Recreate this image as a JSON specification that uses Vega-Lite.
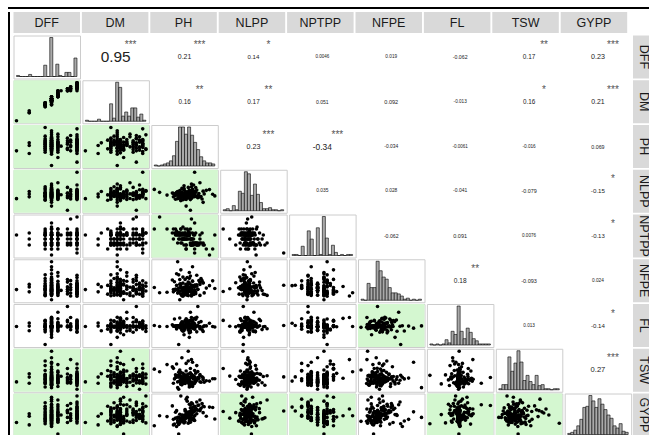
{
"$schema":"https://vega.github.io/schema/vega-lite/v6.json",
"background":"white",
"padding":{"left":8,"top":7,"right":0,"bottom":0},
"config":{"font":"Liberation Sans","view":{"continuousWidth":66.5,"continuousHeight":43,"discreteWidth":66.5,"discreteHeight":43,"stroke":"#cccccc","strokeWidth":1},"axis":{"disable":true},"legend":{"disable":true},"locale":{"number":{"decimal":".","thousands":",","grouping":[3],"currency":["$",""],"minus":"-"}}},
"datasets":{
"vars":[{"v":"DFF"},{"v":"DM"},{"v":"PH"},{"v":"NLPP"},{"v":"NPTPP"},{"v":"NFPE"},{"v":"FL"},{"v":"TSW"},{"v":"GYPP"}],
"cor":[
{"a":"DFF","b":"DM","r":0.95,"stars":"***"},{"a":"DFF","b":"PH","r":0.21,"stars":"***"},{"a":"DFF","b":"NLPP","r":0.14,"stars":"*"},{"a":"DFF","b":"NPTPP","r":0.0046,"stars":""},{"a":"DFF","b":"NFPE","r":0.019,"stars":""},{"a":"DFF","b":"FL","r":-0.062,"stars":""},{"a":"DFF","b":"TSW","r":0.17,"stars":"**"},{"a":"DFF","b":"GYPP","r":0.23,"stars":"***"},
{"a":"DM","b":"PH","r":0.16,"stars":"**"},{"a":"DM","b":"NLPP","r":0.17,"stars":"**"},{"a":"DM","b":"NPTPP","r":0.051,"stars":""},{"a":"DM","b":"NFPE","r":0.092,"stars":""},{"a":"DM","b":"FL","r":-0.013,"stars":""},{"a":"DM","b":"TSW","r":0.16,"stars":"*"},{"a":"DM","b":"GYPP","r":0.21,"stars":"***"},
{"a":"PH","b":"NLPP","r":0.23,"stars":"***"},{"a":"PH","b":"NPTPP","r":-0.34,"stars":"***"},{"a":"PH","b":"NFPE","r":-0.034,"stars":""},{"a":"PH","b":"FL","r":-0.0061,"stars":""},{"a":"PH","b":"TSW","r":-0.016,"stars":""},{"a":"PH","b":"GYPP","r":0.069,"stars":""},
{"a":"NLPP","b":"NPTPP","r":0.035,"stars":""},{"a":"NLPP","b":"NFPE","r":0.028,"stars":""},{"a":"NLPP","b":"FL","r":-0.041,"stars":""},{"a":"NLPP","b":"TSW","r":-0.079,"stars":""},{"a":"NLPP","b":"GYPP","r":-0.15,"stars":"*"},
{"a":"NPTPP","b":"NFPE","r":-0.062,"stars":""},{"a":"NPTPP","b":"FL","r":0.091,"stars":""},{"a":"NPTPP","b":"TSW","r":0.0076,"stars":""},{"a":"NPTPP","b":"GYPP","r":-0.13,"stars":"*"},
{"a":"NFPE","b":"FL","r":0.18,"stars":"**"},{"a":"NFPE","b":"TSW","r":-0.093,"stars":""},{"a":"NFPE","b":"GYPP","r":0.024,"stars":""},
{"a":"FL","b":"TSW","r":0.013,"stars":""},{"a":"FL","b":"GYPP","r":-0.14,"stars":"*"},
{"a":"TSW","b":"GYPP","r":0.27,"stars":"***"}],
"hist":[
{"v":"DFF","b":0,"n":1},{"v":"DFF","b":1,"n":0},{"v":"DFF","b":2,"n":0},{"v":"DFF","b":3,"n":0},{"v":"DFF","b":4,"n":2},{"v":"DFF","b":5,"n":0},{"v":"DFF","b":6,"n":0},{"v":"DFF","b":7,"n":0},{"v":"DFF","b":8,"n":0},{"v":"DFF","b":9,"n":11},{"v":"DFF","b":10,"n":0},{"v":"DFF","b":11,"n":38},{"v":"DFF","b":12,"n":0},{"v":"DFF","b":13,"n":12},{"v":"DFF","b":14,"n":1},{"v":"DFF","b":15,"n":0},{"v":"DFF","b":16,"n":4},{"v":"DFF","b":17,"n":4},{"v":"DFF","b":18,"n":0},{"v":"DFF","b":19,"n":18},
{"v":"DM","b":0,"n":1},{"v":"DM","b":1,"n":0},{"v":"DM","b":2,"n":0},{"v":"DM","b":3,"n":0},{"v":"DM","b":4,"n":2},{"v":"DM","b":5,"n":0},{"v":"DM","b":6,"n":0},{"v":"DM","b":7,"n":0},{"v":"DM","b":8,"n":17},{"v":"DM","b":9,"n":3},{"v":"DM","b":10,"n":38},{"v":"DM","b":11,"n":33},{"v":"DM","b":12,"n":5},{"v":"DM","b":13,"n":9},{"v":"DM","b":14,"n":5},{"v":"DM","b":15,"n":13},{"v":"DM","b":16,"n":13},{"v":"DM","b":17,"n":4},{"v":"DM","b":18,"n":7},{"v":"DM","b":19,"n":1},
{"v":"PH","b":0,"n":1},{"v":"PH","b":1,"n":0},{"v":"PH","b":2,"n":1},{"v":"PH","b":3,"n":2},{"v":"PH","b":4,"n":3},{"v":"PH","b":5,"n":5},{"v":"PH","b":6,"n":10},{"v":"PH","b":7,"n":24},{"v":"PH","b":8,"n":38},{"v":"PH","b":9,"n":38},{"v":"PH","b":10,"n":31},{"v":"PH","b":11,"n":38},{"v":"PH","b":12,"n":30},{"v":"PH","b":13,"n":23},{"v":"PH","b":14,"n":16},{"v":"PH","b":15,"n":9},{"v":"PH","b":16,"n":5},{"v":"PH","b":17,"n":3},{"v":"PH","b":18,"n":3},{"v":"PH","b":19,"n":2},
{"v":"NLPP","b":0,"n":1},{"v":"NLPP","b":1,"n":2},{"v":"NLPP","b":2,"n":0},{"v":"NLPP","b":3,"n":5},{"v":"NLPP","b":4,"n":1},{"v":"NLPP","b":5,"n":19},{"v":"NLPP","b":6,"n":17},{"v":"NLPP","b":7,"n":38},{"v":"NLPP","b":8,"n":36},{"v":"NLPP","b":9,"n":15},{"v":"NLPP","b":10,"n":26},{"v":"NLPP","b":11,"n":16},{"v":"NLPP","b":12,"n":8},{"v":"NLPP","b":13,"n":2},{"v":"NLPP","b":14,"n":2},{"v":"NLPP","b":15,"n":3},{"v":"NLPP","b":16,"n":1},{"v":"NLPP","b":17,"n":1},{"v":"NLPP","b":18,"n":0},{"v":"NLPP","b":19,"n":1},
{"v":"NPTPP","b":0,"n":1},{"v":"NPTPP","b":1,"n":1},{"v":"NPTPP","b":2,"n":0},{"v":"NPTPP","b":3,"n":9},{"v":"NPTPP","b":4,"n":0},{"v":"NPTPP","b":5,"n":24},{"v":"NPTPP","b":6,"n":16},{"v":"NPTPP","b":7,"n":0},{"v":"NPTPP","b":8,"n":27},{"v":"NPTPP","b":9,"n":1},{"v":"NPTPP","b":10,"n":38},{"v":"NPTPP","b":11,"n":17},{"v":"NPTPP","b":12,"n":1},{"v":"NPTPP","b":13,"n":10},{"v":"NPTPP","b":14,"n":3},{"v":"NPTPP","b":15,"n":0},{"v":"NPTPP","b":16,"n":1},{"v":"NPTPP","b":17,"n":0},{"v":"NPTPP","b":18,"n":1},{"v":"NPTPP","b":19,"n":1},
{"v":"NFPE","b":0,"n":1},{"v":"NFPE","b":1,"n":0},{"v":"NFPE","b":2,"n":16},{"v":"NFPE","b":3,"n":12},{"v":"NFPE","b":4,"n":12},{"v":"NFPE","b":5,"n":37},{"v":"NFPE","b":6,"n":28},{"v":"NFPE","b":7,"n":22},{"v":"NFPE","b":8,"n":20},{"v":"NFPE","b":9,"n":12},{"v":"NFPE","b":10,"n":7},{"v":"NFPE","b":11,"n":7},{"v":"NFPE","b":12,"n":6},{"v":"NFPE","b":13,"n":4},{"v":"NFPE","b":14,"n":1},{"v":"NFPE","b":15,"n":2},{"v":"NFPE","b":16,"n":0},{"v":"NFPE","b":17,"n":1},{"v":"NFPE","b":18,"n":0},{"v":"NFPE","b":19,"n":1},
{"v":"FL","b":0,"n":1},{"v":"FL","b":1,"n":0},{"v":"FL","b":2,"n":1},{"v":"FL","b":3,"n":0},{"v":"FL","b":4,"n":1},{"v":"FL","b":5,"n":5},{"v":"FL","b":6,"n":2},{"v":"FL","b":7,"n":13},{"v":"FL","b":8,"n":10},{"v":"FL","b":9,"n":37},{"v":"FL","b":10,"n":13},{"v":"FL","b":11,"n":6},{"v":"FL","b":12,"n":16},{"v":"FL","b":13,"n":12},{"v":"FL","b":14,"n":6},{"v":"FL","b":15,"n":4},{"v":"FL","b":16,"n":1},{"v":"FL","b":17,"n":1},{"v":"FL","b":18,"n":1},{"v":"FL","b":19,"n":1},
{"v":"TSW","b":0,"n":1},{"v":"TSW","b":1,"n":5},{"v":"TSW","b":2,"n":5},{"v":"TSW","b":3,"n":32},{"v":"TSW","b":4,"n":18},{"v":"TSW","b":5,"n":26},{"v":"TSW","b":6,"n":38},{"v":"TSW","b":7,"n":27},{"v":"TSW","b":8,"n":9},{"v":"TSW","b":9,"n":14},{"v":"TSW","b":10,"n":8},{"v":"TSW","b":11,"n":5},{"v":"TSW","b":12,"n":14},{"v":"TSW","b":13,"n":4},{"v":"TSW","b":14,"n":5},{"v":"TSW","b":15,"n":1},{"v":"TSW","b":16,"n":1},{"v":"TSW","b":17,"n":0},{"v":"TSW","b":18,"n":1},{"v":"TSW","b":19,"n":1},
{"v":"GYPP","b":0,"n":1},{"v":"GYPP","b":1,"n":2},{"v":"GYPP","b":2,"n":4},{"v":"GYPP","b":3,"n":8},{"v":"GYPP","b":4,"n":14},{"v":"GYPP","b":5,"n":25},{"v":"GYPP","b":6,"n":26},{"v":"GYPP","b":7,"n":36},{"v":"GYPP","b":8,"n":31},{"v":"GYPP","b":9,"n":25},{"v":"GYPP","b":10,"n":33},{"v":"GYPP","b":11,"n":28},{"v":"GYPP","b":12,"n":23},{"v":"GYPP","b":13,"n":18},{"v":"GYPP","b":14,"n":15},{"v":"GYPP","b":15,"n":8},{"v":"GYPP","b":16,"n":6},{"v":"GYPP","b":17,"n":10},{"v":"GYPP","b":18,"n":3},{"v":"GYPP","b":19,"n":2}],
"obs":[
{"DFF":40,"DM":84,"PH":83,"NLPP":11.2,"NPTPP":4.5,"NFPE":15.3,"FL":24.4,"TSW":34.1,"GYPP":5.2},
{"DFF":44,"DM":88,"PH":91,"NLPP":13.5,"NPTPP":3.25,"NFPE":17.8,"FL":26.1,"TSW":36.5,"GYPP":6.8},
{"DFF":44,"DM":88,"PH":79,"NLPP":12.1,"NPTPP":4.0,"NFPE":14.2,"FL":24.6,"TSW":33.4,"GYPP":4.6},
{"DFF":44,"DM":89,"PH":95,"NLPP":14.8,"NPTPP":4.75,"NFPE":16.6,"FL":22.3,"TSW":38.2,"GYPP":7.4},
{"DFF":49,"DM":92,"PH":118,"NLPP":12.6,"NPTPP":4.5,"NFPE":15.8,"FL":24.2,"TSW":35.7,"GYPP":6.1},
{"DFF":49,"DM":92,"PH":97,"NLPP":13.9,"NPTPP":3.5,"NFPE":19.4,"FL":27.5,"TSW":33.2,"GYPP":7.9},
{"DFF":49,"DM":91,"PH":86,"NLPP":10.4,"NPTPP":5.25,"NFPE":13.1,"FL":24.7,"TSW":36.9,"GYPP":5.6},
{"DFF":49,"DM":92,"PH":101,"NLPP":15.6,"NPTPP":3.25,"NFPE":16.9,"FL":21.8,"TSW":42.3,"GYPP":8.4},
{"DFF":49,"DM":93,"PH":92,"NLPP":12.9,"NPTPP":4.0,"NFPE":12.6,"FL":24.5,"TSW":34.6,"GYPP":6.6},
{"DFF":49,"DM":92,"PH":84,"NLPP":11.7,"NPTPP":4.75,"NFPE":22.4,"FL":15.6,"TSW":37.4,"GYPP":4.9},
{"DFF":49,"DM":92,"PH":94,"NLPP":14.2,"NPTPP":4.5,"NFPE":15.1,"FL":25.9,"TSW":31.5,"GYPP":7.2},
{"DFF":49,"DM":91,"PH":99,"NLPP":13.1,"NPTPP":2.75,"NFPE":17.3,"FL":23.1,"TSW":39.8,"GYPP":9.3},
{"DFF":49,"DM":92,"PH":89,"NLPP":16.3,"NPTPP":4.0,"NFPE":14.7,"FL":24.3,"TSW":35.2,"GYPP":5.9},
{"DFF":49,"DM":93,"PH":105,"NLPP":12.3,"NPTPP":3.5,"NFPE":20.6,"FL":26.8,"TSW":33.9,"GYPP":8.8},
{"DFF":49,"DM":92,"PH":81,"NLPP":10.9,"NPTPP":4.5,"NFPE":15.5,"FL":24.8,"TSW":36.3,"GYPP":6.3},
{"DFF":49,"DM":92,"PH":93,"NLPP":13.7,"NPTPP":5.0,"NFPE":18.2,"FL":22.7,"TSW":44.6,"GYPP":7.6},
{"DFF":49,"DM":92,"PH":90,"NLPP":12.4,"NPTPP":4.75,"NFPE":13.8,"FL":24.1,"TSW":33.6,"GYPP":5.4},
{"DFF":49,"DM":93,"PH":96,"NLPP":17.2,"NPTPP":3.25,"NFPE":16.1,"FL":27.2,"TSW":37.9,"GYPP":10.2},
{"DFF":49,"DM":92,"PH":87,"NLPP":14.5,"NPTPP":4.5,"NFPE":12.3,"FL":25.4,"TSW":35.5,"GYPP":6.9},
{"DFF":51,"DM":94,"PH":92,"NLPP":13.3,"NPTPP":4.5,"NFPE":15.6,"FL":24.4,"TSW":36.2,"GYPP":6.7},
{"DFF":51,"DM":95,"PH":85,"NLPP":12.2,"NPTPP":4.0,"NFPE":17.9,"FL":28.6,"TSW":34.4,"GYPP":7.3},
{"DFF":51,"DM":94,"PH":98,"NLPP":14.6,"NPTPP":3.5,"NFPE":14.4,"FL":24.6,"TSW":37.1,"GYPP":5.8},
{"DFF":51,"DM":95,"PH":90,"NLPP":11.4,"NPTPP":4.75,"NFPE":13.2,"FL":23.4,"TSW":33.3,"GYPP":8.1},
{"DFF":51,"DM":94,"PH":61,"NLPP":15.9,"NPTPP":5.25,"NFPE":16.3,"FL":24.9,"TSW":40.5,"GYPP":4.4},
{"DFF":51,"DM":96,"PH":103,"NLPP":13.8,"NPTPP":3.25,"NFPE":19.7,"FL":26.4,"TSW":35.8,"GYPP":9.6},
{"DFF":51,"DM":95,"PH":94,"NLPP":12.7,"NPTPP":4.5,"NFPE":15.2,"FL":24.2,"TSW":32.7,"GYPP":6.2},
{"DFF":51,"DM":94,"PH":88,"NLPP":10.6,"NPTPP":4.5,"NFPE":21.3,"FL":22.1,"TSW":36.6,"GYPP":7.0},
{"DFF":51,"DM":93,"PH":95,"NLPP":14.1,"NPTPP":4.0,"NFPE":14.9,"FL":24.5,"TSW":38.7,"GYPP":5.3},
{"DFF":51,"DM":95,"PH":100,"NLPP":16.8,"NPTPP":3.5,"NFPE":17.4,"FL":27.9,"TSW":34.9,"GYPP":8.7},
{"DFF":51,"DM":94,"PH":83,"NLPP":13.0,"NPTPP":4.75,"NFPE":28.7,"FL":24.7,"TSW":31.2,"GYPP":6.5},
{"DFF":51,"DM":95,"PH":91,"NLPP":12.5,"NPTPP":2.75,"NFPE":15.9,"FL":25.6,"TSW":43.4,"GYPP":11.1},
{"DFF":51,"DM":94,"PH":107,"NLPP":9.3,"NPTPP":3.25,"NFPE":18.6,"FL":24.3,"TSW":35.3,"GYPP":7.7},
{"DFF":51,"DM":96,"PH":89,"NLPP":13.6,"NPTPP":4.5,"NFPE":13.6,"FL":20.4,"TSW":37.6,"GYPP":5.1},
{"DFF":51,"DM":94,"PH":97,"NLPP":15.2,"NPTPP":4.0,"NFPE":16.7,"FL":26.6,"TSW":33.8,"GYPP":9.0},
{"DFF":51,"DM":95,"PH":86,"NLPP":11.9,"NPTPP":5.25,"NFPE":24.8,"FL":24.6,"TSW":36.0,"GYPP":6.0},
{"DFF":51,"DM":94,"PH":93,"NLPP":14.3,"NPTPP":4.5,"NFPE":14.1,"FL":23.7,"TSW":34.0,"GYPP":7.5},
{"DFF":51,"DM":92,"PH":102,"NLPP":12.8,"NPTPP":3.5,"NFPE":15.4,"FL":24.9,"TSW":39.3,"GYPP":8.3},
{"DFF":51,"DM":95,"PH":80,"NLPP":13.4,"NPTPP":4.75,"NFPE":19.1,"FL":28.1,"TSW":35.6,"GYPP":4.8},
{"DFF":51,"DM":94,"PH":96,"NLPP":18.6,"NPTPP":3.25,"NFPE":12.9,"FL":24.4,"TSW":32.4,"GYPP":6.4},
{"DFF":51,"DM":95,"PH":92,"NLPP":12.0,"NPTPP":4.5,"NFPE":17.1,"FL":25.1,"TSW":37.3,"GYPP":10.6},
{"DFF":51,"DM":94,"PH":87,"NLPP":13.2,"NPTPP":4.0,"NFPE":15.0,"FL":22.6,"TSW":46.2,"GYPP":7.1},
{"DFF":51,"DM":93,"PH":99,"NLPP":14.9,"NPTPP":3.5,"NFPE":13.4,"FL":24.2,"TSW":33.5,"GYPP":5.7},
{"DFF":51,"DM":95,"PH":90,"NLPP":11.1,"NPTPP":5.25,"NFPE":20.2,"FL":27.3,"TSW":36.8,"GYPP":8.5},
{"DFF":51,"DM":94,"PH":110,"NLPP":15.4,"NPTPP":2.75,"NFPE":16.0,"FL":24.7,"TSW":34.7,"GYPP":6.8},
{"DFF":51,"DM":96,"PH":85,"NLPP":12.9,"NPTPP":4.5,"NFPE":10.4,"FL":24.0,"TSW":40.1,"GYPP":5.5},
{"DFF":51,"DM":95,"PH":94,"NLPP":13.7,"NPTPP":4.75,"NFPE":18.3,"FL":21.3,"TSW":35.1,"GYPP":9.8},
{"DFF":51,"DM":94,"PH":91,"NLPP":7.4,"NPTPP":4.0,"NFPE":15.7,"FL":24.5,"TSW":37.0,"GYPP":6.3},
{"DFF":51,"DM":95,"PH":98,"NLPP":12.6,"NPTPP":3.25,"NFPE":13.0,"FL":26.2,"TSW":33.0,"GYPP":7.8},
{"DFF":51,"DM":94,"PH":82,"NLPP":14.4,"NPTPP":4.5,"NFPE":22.9,"FL":24.8,"TSW":36.4,"GYPP":4.2},
{"DFF":51,"DM":92,"PH":95,"NLPP":13.5,"NPTPP":4.0,"NFPE":16.5,"FL":23.9,"TSW":32.1,"GYPP":8.9},
{"DFF":51,"DM":95,"PH":88,"NLPP":16.1,"NPTPP":5.5,"NFPE":14.3,"FL":24.3,"TSW":38.4,"GYPP":6.6},
{"DFF":51,"DM":94,"PH":101,"NLPP":12.3,"NPTPP":3.5,"NFPE":17.6,"FL":28.9,"TSW":35.4,"GYPP":7.4},
{"DFF":51,"DM":95,"PH":93,"NLPP":11.6,"NPTPP":4.5,"NFPE":12.4,"FL":24.6,"TSW":49.5,"GYPP":5.0},
{"DFF":51,"DM":94,"PH":78,"NLPP":14.0,"NPTPP":4.75,"NFPE":19.9,"FL":25.3,"TSW":41.7,"GYPP":9.4},
{"DFF":51,"DM":93,"PH":96,"NLPP":13.1,"NPTPP":3.25,"NFPE":15.3,"FL":24.1,"TSW":36.7,"GYPP":7.0},
{"DFF":51,"DM":95,"PH":89,"NLPP":17.7,"NPTPP":4.0,"NFPE":14.8,"FL":22.9,"TSW":33.7,"GYPP":6.1},
{"DFF":51,"DM":94,"PH":104,"NLPP":12.2,"NPTPP":4.5,"NFPE":18.8,"FL":24.4,"TSW":37.8,"GYPP":8.2},
{"DFF":51,"DM":96,"PH":92,"NLPP":14.7,"NPTPP":5.25,"NFPE":13.5,"FL":27.0,"TSW":35.0,"GYPP":11.6},
{"DFF":51,"DM":95,"PH":86,"NLPP":10.2,"NPTPP":4.5,"NFPE":16.2,"FL":24.9,"TSW":32.9,"GYPP":5.6},
{"DFF":51,"DM":94,"PH":97,"NLPP":13.9,"NPTPP":3.5,"NFPE":26.3,"FL":23.6,"TSW":44.0,"GYPP":7.9},
{"DFF":51,"DM":95,"PH":90,"NLPP":12.4,"NPTPP":4.0,"NFPE":15.1,"FL":24.2,"TSW":36.1,"GYPP":6.5},
{"DFF":51,"DM":94,"PH":113,"NLPP":15.8,"NPTPP":2.0,"NFPE":17.2,"FL":26.0,"TSW":34.5,"GYPP":9.1},
{"DFF":51,"DM":95,"PH":84,"NLPP":13.3,"NPTPP":4.75,"NFPE":13.9,"FL":24.7,"TSW":39.0,"GYPP":4.7},
{"DFF":51,"DM":94,"PH":94,"NLPP":11.8,"NPTPP":4.5,"NFPE":20.7,"FL":19.1,"TSW":33.1,"GYPP":7.2},
{"DFF":51,"DM":92,"PH":91,"NLPP":14.2,"NPTPP":3.25,"NFPE":14.5,"FL":24.5,"TSW":37.5,"GYPP":8.0},
{"DFF":51,"DM":95,"PH":99,"NLPP":12.7,"NPTPP":6.0,"NFPE":16.8,"FL":28.4,"TSW":35.9,"GYPP":6.9},
{"DFF":51,"DM":94,"PH":87,"NLPP":16.4,"NPTPP":4.0,"NFPE":12.7,"FL":24.3,"TSW":32.6,"GYPP":5.9},
{"DFF":53,"DM":97,"PH":93,"NLPP":13.4,"NPTPP":4.5,"NFPE":15.5,"FL":24.6,"TSW":35.8,"GYPP":7.6},
{"DFF":53,"DM":96,"PH":86,"NLPP":12.1,"NPTPP":3.5,"NFPE":18.1,"FL":25.8,"TSW":38.9,"GYPP":6.2},
{"DFF":53,"DM":97,"PH":100,"NLPP":14.6,"NPTPP":4.75,"NFPE":13.3,"FL":24.2,"TSW":34.3,"GYPP":8.6},
{"DFF":53,"DM":98,"PH":89,"NLPP":11.3,"NPTPP":4.0,"NFPE":16.4,"FL":22.4,"TSW":36.2,"GYPP":5.3},
{"DFF":53,"DM":97,"PH":95,"NLPP":15.1,"NPTPP":3.25,"NFPE":21.8,"FL":31.4,"TSW":33.4,"GYPP":9.7},
{"DFF":53,"DM":96,"PH":73,"NLPP":13.0,"NPTPP":5.25,"NFPE":14.0,"FL":24.4,"TSW":42.8,"GYPP":6.7},
{"DFF":53,"DM":97,"PH":92,"NLPP":12.5,"NPTPP":4.5,"NFPE":17.0,"FL":24.8,"TSW":35.2,"GYPP":7.3},
{"DFF":53,"DM":98,"PH":104,"NLPP":19.3,"NPTPP":3.5,"NFPE":12.5,"FL":23.3,"TSW":37.2,"GYPP":10.9},
{"DFF":53,"DM":99,"PH":88,"NLPP":13.8,"NPTPP":4.0,"NFPE":15.8,"FL":26.5,"TSW":34.8,"GYPP":5.8},
{"DFF":53,"DM":97,"PH":97,"NLPP":12.0,"NPTPP":4.75,"NFPE":19.3,"FL":24.1,"TSW":31.8,"GYPP":8.1},
{"DFF":53,"DM":96,"PH":84,"NLPP":14.3,"NPTPP":4.5,"NFPE":14.2,"FL":24.5,"TSW":36.5,"GYPP":2.3},
{"DFF":53,"DM":97,"PH":91,"NLPP":10.8,"NPTPP":2.75,"NFPE":16.7,"FL":28.2,"TSW":39.6,"GYPP":7.0},
{"DFF":53,"DM":98,"PH":108,"NLPP":13.6,"NPTPP":3.25,"NFPE":13.7,"FL":24.7,"TSW":33.9,"GYPP":9.2},
{"DFF":53,"DM":97,"PH":94,"NLPP":15.5,"NPTPP":4.5,"NFPE":23.5,"FL":22.2,"TSW":35.6,"GYPP":5.6},
{"DFF":53,"DM":99,"PH":81,"NLPP":12.8,"NPTPP":5.25,"NFPE":15.0,"FL":24.3,"TSW":37.7,"GYPP":7.8},
{"DFF":53,"DM":96,"PH":96,"NLPP":11.5,"NPTPP":4.0,"NFPE":17.5,"FL":25.5,"TSW":34.0,"GYPP":6.0},
{"DFF":54,"DM":99,"PH":90,"NLPP":13.2,"NPTPP":4.5,"NFPE":14.9,"FL":24.6,"TSW":36.9,"GYPP":7.1},
{"DFF":56,"DM":99,"PH":98,"NLPP":14.0,"NPTPP":4.0,"NFPE":16.6,"FL":24.2,"TSW":35.5,"GYPP":8.3},
{"DFF":56,"DM":100,"PH":87,"NLPP":12.6,"NPTPP":3.5,"NFPE":13.2,"FL":26.7,"TSW":33.6,"GYPP":6.5},
{"DFF":56,"DM":99,"PH":93,"NLPP":16.9,"NPTPP":4.75,"NFPE":18.9,"FL":24.8,"TSW":38.1,"GYPP":7.7},
{"DFF":56,"DM":100,"PH":102,"NLPP":11.7,"NPTPP":3.25,"NFPE":15.4,"FL":34.2,"TSW":36.3,"GYPP":9.5},
{"DFF":56,"DM":99,"PH":85,"NLPP":13.9,"NPTPP":4.5,"NFPE":20.1,"FL":24.4,"TSW":34.6,"GYPP":5.2},
{"DFF":56,"DM":100,"PH":95,"NLPP":5.3,"NPTPP":5.25,"NFPE":14.4,"FL":27.4,"TSW":40.8,"GYPP":8.0},
{"DFF":57,"DM":100,"PH":91,"NLPP":13.5,"NPTPP":4.0,"NFPE":17.7,"FL":24.5,"TSW":35.4,"GYPP":7.4},
{"DFF":57,"DM":101,"PH":99,"NLPP":12.2,"NPTPP":4.5,"NFPE":15.2,"FL":25.7,"TSW":33.5,"GYPP":6.9},
{"DFF":57,"DM":100,"PH":83,"NLPP":14.8,"NPTPP":3.5,"NFPE":13.6,"FL":24.1,"TSW":37.3,"GYPP":5.7},
{"DFF":57,"DM":100,"PH":106,"NLPP":11.0,"NPTPP":4.75,"NFPE":19.6,"FL":22.8,"TSW":36.7,"GYPP":10.0},
{"DFF":57,"DM":101,"PH":89,"NLPP":15.7,"NPTPP":3.25,"NFPE":16.3,"FL":24.9,"TSW":34.1,"GYPP":6.3},
{"DFF":57,"DM":99,"PH":96,"NLPP":13.1,"NPTPP":6.5,"NFPE":12.2,"FL":28.8,"TSW":45.3,"GYPP":8.6},
{"DFF":59,"DM":102,"PH":94,"NLPP":13.6,"NPTPP":4.5,"NFPE":15.7,"FL":24.3,"TSW":36.4,"GYPP":7.9},
{"DFF":59,"DM":101,"PH":88,"NLPP":12.4,"NPTPP":4.0,"NFPE":18.4,"FL":26.3,"TSW":34.7,"GYPP":6.6},
{"DFF":59,"DM":102,"PH":100,"NLPP":14.5,"NPTPP":3.5,"NFPE":14.1,"FL":24.6,"TSW":38.5,"GYPP":8.8},
{"DFF":59,"DM":103,"PH":86,"NLPP":11.2,"NPTPP":4.75,"NFPE":16.9,"FL":23.5,"TSW":33.0,"GYPP":11.9},
{"DFF":59,"DM":102,"PH":97,"NLPP":16.0,"NPTPP":3.25,"NFPE":13.5,"FL":24.2,"TSW":36.0,"GYPP":9.9},
{"DFF":59,"DM":100,"PH":92,"NLPP":12.8,"NPTPP":4.5,"NFPE":21.1,"FL":27.6,"TSW":35.3,"GYPP":7.2},
{"DFF":59,"DM":102,"PH":79,"NLPP":13.9,"NPTPP":5.25,"NFPE":15.3,"FL":24.7,"TSW":40.9,"GYPP":6.0},
{"DFF":59,"DM":101,"PH":104,"NLPP":12.1,"NPTPP":4.0,"NFPE":17.8,"FL":24.0,"TSW":34.2,"GYPP":8.4},
{"DFF":59,"DM":102,"PH":90,"NLPP":14.9,"NPTPP":4.5,"NFPE":12.8,"FL":25.2,"TSW":37.4,"GYPP":6.8},
{"DFF":59,"DM":99,"PH":95,"NLPP":10.7,"NPTPP":3.5,"NFPE":16.1,"FL":21.6,"TSW":32.3,"GYPP":7.5},
{"DFF":59,"DM":102,"PH":116,"NLPP":13.4,"NPTPP":2.75,"NFPE":19.5,"FL":24.4,"TSW":35.7,"GYPP":9.0},
{"DFF":59,"DM":103,"PH":85,"NLPP":15.3,"NPTPP":4.75,"NFPE":14.6,"FL":24.8,"TSW":38.0,"GYPP":5.1},
{"DFF":59,"DM":102,"PH":93,"NLPP":12.0,"NPTPP":4.0,"NFPE":15.9,"FL":26.9,"TSW":33.8,"GYPP":7.7},
{"DFF":59,"DM":101,"PH":98,"NLPP":18.1,"NPTPP":4.5,"NFPE":13.1,"FL":24.3,"TSW":36.8,"GYPP":6.2},
{"DFF":59,"DM":102,"PH":82,"NLPP":13.7,"NPTPP":5.0,"NFPE":17.3,"FL":23.2,"TSW":43.1,"GYPP":8.2},
{"DFF":59,"DM":100,"PH":101,"NLPP":12.3,"NPTPP":3.25,"NFPE":22.2,"FL":24.5,"TSW":34.9,"GYPP":10.4},
{"DFF":59,"DM":102,"PH":91,"NLPP":14.1,"NPTPP":4.5,"NFPE":14.5,"FL":27.1,"TSW":35.1,"GYPP":6.4},
{"DFF":59,"DM":101,"PH":96,"NLPP":11.4,"NPTPP":4.0,"NFPE":16.4,"FL":24.6,"TSW":37.6,"GYPP":7.3},
{"DFF":59,"DM":102,"PH":88,"NLPP":13.0,"NPTPP":4.75,"NFPE":12.1,"FL":24.1,"TSW":33.3,"GYPP":5.5},
{"DFF":59,"DM":103,"PH":107,"NLPP":15.0,"NPTPP":3.5,"NFPE":18.5,"FL":22.0,"TSW":36.2,"GYPP":9.3},
{"DFF":59,"DM":102,"PH":94,"NLPP":12.7,"NPTPP":4.5,"NFPE":15.6,"FL":25.9,"TSW":34.4,"GYPP":7.0},
{"DFF":59,"DM":100,"PH":66,"NLPP":14.4,"NPTPP":6.75,"NFPE":13.8,"FL":24.4,"TSW":39.2,"GYPP":6.9},
{"DFF":59,"DM":102,"PH":99,"NLPP":24.6,"NPTPP":2.25,"NFPE":17.4,"FL":24.9,"TSW":36.6,"GYPP":8.1},
{"DFF":59,"DM":101,"PH":84,"NLPP":12.9,"NPTPP":4.0,"NFPE":16.0,"FL":24.4,"TSW":30.4,"GYPP":6.5}]
},
"spacing":3,
"vconcat":[
{"width":641,"height":2,"view":{"stroke":null},"data":{"values":[{}]},"mark":{"type":"rect","color":"#000000"},"encoding":{}},
{"spacing":2.5,"hconcat":[
{"width":2,"height":424,"view":{"stroke":null},"data":{"values":[{}]},"mark":{"type":"rect","color":"#000000"},"encoding":{}},
{"spacing":1.5,"vconcat":[
{"width":613.7,"height":21,"view":{"stroke":null},"data":{"name":"vars"},"encoding":{"x":{"field":"v","type":"nominal","sort":null,"scale":{"paddingInner":0.0278,"paddingOuter":0},"axis":null}},"layer":[{"mark":{"type":"rect","color":"#d9d9d9"}},{"mark":{"type":"text","fontSize":12.5,"color":"#1a1a1a"},"encoding":{"text":{"field":"v"}}}]},
{"spacing":0.5,"hconcat":[
{"columns":9,"spacing":{"row":1.75,"column":1.9},"bounds":"flush","concat":[
{"data":{"name":"hist"},"transform":[{"filter":"datum.v=='DFF'"}],"mark":{"type":"bar","fill":"#aaaaaa","stroke":"#000000","strokeWidth":0.6},"encoding":{"x":{"field":"b","type":"ordinal","scale":{"paddingInner":0,"paddingOuter":1}},"y":{"field":"n","type":"quantitative","scale":{"nice":false,"padding":2}}}},
{"data":{"name":"cor"},"transform":[{"filter":"datum.a=='DFF'&&datum.b=='DM'"}],"layer":[{"mark":{"type":"text","color":"#222222"},"encoding":{"text":{"field":"r","type":"quantitative","format":".2r"},"size":{"field":"r","type":"quantitative","scale":{"domain":[-1,0,1],"range":[16,4.5,16]}}}},{"mark":{"type":"text","dx":15,"dy":-12,"fontSize":10,"color":"#555555"},"encoding":{"text":{"field":"stars"}}}]},
{"data":{"name":"cor"},"transform":[{"filter":"datum.a=='DFF'&&datum.b=='PH'"}],"layer":[{"mark":{"type":"text","color":"#222222"},"encoding":{"text":{"field":"r","type":"quantitative","format":".2r"},"size":{"field":"r","type":"quantitative","scale":{"domain":[-1,0,1],"range":[16,4.5,16]}}}},{"mark":{"type":"text","dx":15,"dy":-12,"fontSize":10,"color":"#555555"},"encoding":{"text":{"field":"stars"}}}]},
{"data":{"name":"cor"},"transform":[{"filter":"datum.a=='DFF'&&datum.b=='NLPP'"}],"layer":[{"mark":{"type":"text","color":"#222222"},"encoding":{"text":{"field":"r","type":"quantitative","format":".2r"},"size":{"field":"r","type":"quantitative","scale":{"domain":[-1,0,1],"range":[16,4.5,16]}}}},{"mark":{"type":"text","dx":15,"dy":-12,"fontSize":10,"color":"#555555"},"encoding":{"text":{"field":"stars"}}}]},
{"data":{"name":"cor"},"transform":[{"filter":"datum.a=='DFF'&&datum.b=='NPTPP'"}],"layer":[{"mark":{"type":"text","color":"#222222"},"encoding":{"text":{"field":"r","type":"quantitative","format":".2r"},"size":{"field":"r","type":"quantitative","scale":{"domain":[-1,0,1],"range":[16,4.5,16]}}}},{"mark":{"type":"text","dx":15,"dy":-12,"fontSize":10,"color":"#555555"},"encoding":{"text":{"field":"stars"}}}]},
{"data":{"name":"cor"},"transform":[{"filter":"datum.a=='DFF'&&datum.b=='NFPE'"}],"layer":[{"mark":{"type":"text","color":"#222222"},"encoding":{"text":{"field":"r","type":"quantitative","format":".2r"},"size":{"field":"r","type":"quantitative","scale":{"domain":[-1,0,1],"range":[16,4.5,16]}}}},{"mark":{"type":"text","dx":15,"dy":-12,"fontSize":10,"color":"#555555"},"encoding":{"text":{"field":"stars"}}}]},
{"data":{"name":"cor"},"transform":[{"filter":"datum.a=='DFF'&&datum.b=='FL'"}],"layer":[{"mark":{"type":"text","color":"#222222"},"encoding":{"text":{"field":"r","type":"quantitative","format":".2r"},"size":{"field":"r","type":"quantitative","scale":{"domain":[-1,0,1],"range":[16,4.5,16]}}}},{"mark":{"type":"text","dx":15,"dy":-12,"fontSize":10,"color":"#555555"},"encoding":{"text":{"field":"stars"}}}]},
{"data":{"name":"cor"},"transform":[{"filter":"datum.a=='DFF'&&datum.b=='TSW'"}],"layer":[{"mark":{"type":"text","color":"#222222"},"encoding":{"text":{"field":"r","type":"quantitative","format":".2r"},"size":{"field":"r","type":"quantitative","scale":{"domain":[-1,0,1],"range":[16,4.5,16]}}}},{"mark":{"type":"text","dx":15,"dy":-12,"fontSize":10,"color":"#555555"},"encoding":{"text":{"field":"stars"}}}]},
{"data":{"name":"cor"},"transform":[{"filter":"datum.a=='DFF'&&datum.b=='GYPP'"}],"layer":[{"mark":{"type":"text","color":"#222222"},"encoding":{"text":{"field":"r","type":"quantitative","format":".2r"},"size":{"field":"r","type":"quantitative","scale":{"domain":[-1,0,1],"range":[16,4.5,16]}}}},{"mark":{"type":"text","dx":15,"dy":-12,"fontSize":10,"color":"#555555"},"encoding":{"text":{"field":"stars"}}}]},
{"layer":[{"data":{"name":"cor"},"transform":[{"filter":"datum.a=='DFF'&&datum.b=='DM'&&datum.stars!=''"}],"mark":{"type":"rect","color":"#d4f7d0"},"encoding":{}},{"data":{"name":"obs"},"mark":{"type":"circle","size":13,"color":"#000000","opacity":1},"encoding":{"x":{"field":"DFF","type":"quantitative","scale":{"zero":false,"nice":false,"padding":3}},"y":{"field":"DM","type":"quantitative","scale":{"zero":false,"nice":false,"padding":2.5}}}}]},
{"data":{"name":"hist"},"transform":[{"filter":"datum.v=='DM'"}],"mark":{"type":"bar","fill":"#aaaaaa","stroke":"#000000","strokeWidth":0.6},"encoding":{"x":{"field":"b","type":"ordinal","scale":{"paddingInner":0,"paddingOuter":1}},"y":{"field":"n","type":"quantitative","scale":{"nice":false,"padding":2}}}},
{"data":{"name":"cor"},"transform":[{"filter":"datum.a=='DM'&&datum.b=='PH'"}],"layer":[{"mark":{"type":"text","color":"#222222"},"encoding":{"text":{"field":"r","type":"quantitative","format":".2r"},"size":{"field":"r","type":"quantitative","scale":{"domain":[-1,0,1],"range":[16,4.5,16]}}}},{"mark":{"type":"text","dx":15,"dy":-12,"fontSize":10,"color":"#555555"},"encoding":{"text":{"field":"stars"}}}]},
{"data":{"name":"cor"},"transform":[{"filter":"datum.a=='DM'&&datum.b=='NLPP'"}],"layer":[{"mark":{"type":"text","color":"#222222"},"encoding":{"text":{"field":"r","type":"quantitative","format":".2r"},"size":{"field":"r","type":"quantitative","scale":{"domain":[-1,0,1],"range":[16,4.5,16]}}}},{"mark":{"type":"text","dx":15,"dy":-12,"fontSize":10,"color":"#555555"},"encoding":{"text":{"field":"stars"}}}]},
{"data":{"name":"cor"},"transform":[{"filter":"datum.a=='DM'&&datum.b=='NPTPP'"}],"layer":[{"mark":{"type":"text","color":"#222222"},"encoding":{"text":{"field":"r","type":"quantitative","format":".2r"},"size":{"field":"r","type":"quantitative","scale":{"domain":[-1,0,1],"range":[16,4.5,16]}}}},{"mark":{"type":"text","dx":15,"dy":-12,"fontSize":10,"color":"#555555"},"encoding":{"text":{"field":"stars"}}}]},
{"data":{"name":"cor"},"transform":[{"filter":"datum.a=='DM'&&datum.b=='NFPE'"}],"layer":[{"mark":{"type":"text","color":"#222222"},"encoding":{"text":{"field":"r","type":"quantitative","format":".2r"},"size":{"field":"r","type":"quantitative","scale":{"domain":[-1,0,1],"range":[16,4.5,16]}}}},{"mark":{"type":"text","dx":15,"dy":-12,"fontSize":10,"color":"#555555"},"encoding":{"text":{"field":"stars"}}}]},
{"data":{"name":"cor"},"transform":[{"filter":"datum.a=='DM'&&datum.b=='FL'"}],"layer":[{"mark":{"type":"text","color":"#222222"},"encoding":{"text":{"field":"r","type":"quantitative","format":".2r"},"size":{"field":"r","type":"quantitative","scale":{"domain":[-1,0,1],"range":[16,4.5,16]}}}},{"mark":{"type":"text","dx":15,"dy":-12,"fontSize":10,"color":"#555555"},"encoding":{"text":{"field":"stars"}}}]},
{"data":{"name":"cor"},"transform":[{"filter":"datum.a=='DM'&&datum.b=='TSW'"}],"layer":[{"mark":{"type":"text","color":"#222222"},"encoding":{"text":{"field":"r","type":"quantitative","format":".2r"},"size":{"field":"r","type":"quantitative","scale":{"domain":[-1,0,1],"range":[16,4.5,16]}}}},{"mark":{"type":"text","dx":15,"dy":-12,"fontSize":10,"color":"#555555"},"encoding":{"text":{"field":"stars"}}}]},
{"data":{"name":"cor"},"transform":[{"filter":"datum.a=='DM'&&datum.b=='GYPP'"}],"layer":[{"mark":{"type":"text","color":"#222222"},"encoding":{"text":{"field":"r","type":"quantitative","format":".2r"},"size":{"field":"r","type":"quantitative","scale":{"domain":[-1,0,1],"range":[16,4.5,16]}}}},{"mark":{"type":"text","dx":15,"dy":-12,"fontSize":10,"color":"#555555"},"encoding":{"text":{"field":"stars"}}}]},
{"layer":[{"data":{"name":"cor"},"transform":[{"filter":"datum.a=='DFF'&&datum.b=='PH'&&datum.stars!=''"}],"mark":{"type":"rect","color":"#d4f7d0"},"encoding":{}},{"data":{"name":"obs"},"mark":{"type":"circle","size":13,"color":"#000000","opacity":1},"encoding":{"x":{"field":"DFF","type":"quantitative","scale":{"zero":false,"nice":false,"padding":3}},"y":{"field":"PH","type":"quantitative","scale":{"zero":false,"nice":false,"padding":2.5}}}}]},
{"layer":[{"data":{"name":"cor"},"transform":[{"filter":"datum.a=='DM'&&datum.b=='PH'&&datum.stars!=''"}],"mark":{"type":"rect","color":"#d4f7d0"},"encoding":{}},{"data":{"name":"obs"},"mark":{"type":"circle","size":13,"color":"#000000","opacity":1},"encoding":{"x":{"field":"DM","type":"quantitative","scale":{"zero":false,"nice":false,"padding":3}},"y":{"field":"PH","type":"quantitative","scale":{"zero":false,"nice":false,"padding":2.5}}}}]},
{"data":{"name":"hist"},"transform":[{"filter":"datum.v=='PH'"}],"mark":{"type":"bar","fill":"#aaaaaa","stroke":"#000000","strokeWidth":0.6},"encoding":{"x":{"field":"b","type":"ordinal","scale":{"paddingInner":0,"paddingOuter":1}},"y":{"field":"n","type":"quantitative","scale":{"nice":false,"padding":2}}}},
{"data":{"name":"cor"},"transform":[{"filter":"datum.a=='PH'&&datum.b=='NLPP'"}],"layer":[{"mark":{"type":"text","color":"#222222"},"encoding":{"text":{"field":"r","type":"quantitative","format":".2r"},"size":{"field":"r","type":"quantitative","scale":{"domain":[-1,0,1],"range":[16,4.5,16]}}}},{"mark":{"type":"text","dx":15,"dy":-12,"fontSize":10,"color":"#555555"},"encoding":{"text":{"field":"stars"}}}]},
{"data":{"name":"cor"},"transform":[{"filter":"datum.a=='PH'&&datum.b=='NPTPP'"}],"layer":[{"mark":{"type":"text","color":"#222222"},"encoding":{"text":{"field":"r","type":"quantitative","format":".2r"},"size":{"field":"r","type":"quantitative","scale":{"domain":[-1,0,1],"range":[16,4.5,16]}}}},{"mark":{"type":"text","dx":15,"dy":-12,"fontSize":10,"color":"#555555"},"encoding":{"text":{"field":"stars"}}}]},
{"data":{"name":"cor"},"transform":[{"filter":"datum.a=='PH'&&datum.b=='NFPE'"}],"layer":[{"mark":{"type":"text","color":"#222222"},"encoding":{"text":{"field":"r","type":"quantitative","format":".2r"},"size":{"field":"r","type":"quantitative","scale":{"domain":[-1,0,1],"range":[16,4.5,16]}}}},{"mark":{"type":"text","dx":15,"dy":-12,"fontSize":10,"color":"#555555"},"encoding":{"text":{"field":"stars"}}}]},
{"data":{"name":"cor"},"transform":[{"filter":"datum.a=='PH'&&datum.b=='FL'"}],"layer":[{"mark":{"type":"text","color":"#222222"},"encoding":{"text":{"field":"r","type":"quantitative","format":".2r"},"size":{"field":"r","type":"quantitative","scale":{"domain":[-1,0,1],"range":[16,4.5,16]}}}},{"mark":{"type":"text","dx":15,"dy":-12,"fontSize":10,"color":"#555555"},"encoding":{"text":{"field":"stars"}}}]},
{"data":{"name":"cor"},"transform":[{"filter":"datum.a=='PH'&&datum.b=='TSW'"}],"layer":[{"mark":{"type":"text","color":"#222222"},"encoding":{"text":{"field":"r","type":"quantitative","format":".2r"},"size":{"field":"r","type":"quantitative","scale":{"domain":[-1,0,1],"range":[16,4.5,16]}}}},{"mark":{"type":"text","dx":15,"dy":-12,"fontSize":10,"color":"#555555"},"encoding":{"text":{"field":"stars"}}}]},
{"data":{"name":"cor"},"transform":[{"filter":"datum.a=='PH'&&datum.b=='GYPP'"}],"layer":[{"mark":{"type":"text","color":"#222222"},"encoding":{"text":{"field":"r","type":"quantitative","format":".2r"},"size":{"field":"r","type":"quantitative","scale":{"domain":[-1,0,1],"range":[16,4.5,16]}}}},{"mark":{"type":"text","dx":15,"dy":-12,"fontSize":10,"color":"#555555"},"encoding":{"text":{"field":"stars"}}}]},
{"layer":[{"data":{"name":"cor"},"transform":[{"filter":"datum.a=='DFF'&&datum.b=='NLPP'&&datum.stars!=''"}],"mark":{"type":"rect","color":"#d4f7d0"},"encoding":{}},{"data":{"name":"obs"},"mark":{"type":"circle","size":13,"color":"#000000","opacity":1},"encoding":{"x":{"field":"DFF","type":"quantitative","scale":{"zero":false,"nice":false,"padding":3}},"y":{"field":"NLPP","type":"quantitative","scale":{"zero":false,"nice":false,"padding":2.5}}}}]},
{"layer":[{"data":{"name":"cor"},"transform":[{"filter":"datum.a=='DM'&&datum.b=='NLPP'&&datum.stars!=''"}],"mark":{"type":"rect","color":"#d4f7d0"},"encoding":{}},{"data":{"name":"obs"},"mark":{"type":"circle","size":13,"color":"#000000","opacity":1},"encoding":{"x":{"field":"DM","type":"quantitative","scale":{"zero":false,"nice":false,"padding":3}},"y":{"field":"NLPP","type":"quantitative","scale":{"zero":false,"nice":false,"padding":2.5}}}}]},
{"layer":[{"data":{"name":"cor"},"transform":[{"filter":"datum.a=='PH'&&datum.b=='NLPP'&&datum.stars!=''"}],"mark":{"type":"rect","color":"#d4f7d0"},"encoding":{}},{"data":{"name":"obs"},"mark":{"type":"circle","size":13,"color":"#000000","opacity":1},"encoding":{"x":{"field":"PH","type":"quantitative","scale":{"zero":false,"nice":false,"padding":3}},"y":{"field":"NLPP","type":"quantitative","scale":{"zero":false,"nice":false,"padding":2.5}}}}]},
{"data":{"name":"hist"},"transform":[{"filter":"datum.v=='NLPP'"}],"mark":{"type":"bar","fill":"#aaaaaa","stroke":"#000000","strokeWidth":0.6},"encoding":{"x":{"field":"b","type":"ordinal","scale":{"paddingInner":0,"paddingOuter":1}},"y":{"field":"n","type":"quantitative","scale":{"nice":false,"padding":2}}}},
{"data":{"name":"cor"},"transform":[{"filter":"datum.a=='NLPP'&&datum.b=='NPTPP'"}],"layer":[{"mark":{"type":"text","color":"#222222"},"encoding":{"text":{"field":"r","type":"quantitative","format":".2r"},"size":{"field":"r","type":"quantitative","scale":{"domain":[-1,0,1],"range":[16,4.5,16]}}}},{"mark":{"type":"text","dx":15,"dy":-12,"fontSize":10,"color":"#555555"},"encoding":{"text":{"field":"stars"}}}]},
{"data":{"name":"cor"},"transform":[{"filter":"datum.a=='NLPP'&&datum.b=='NFPE'"}],"layer":[{"mark":{"type":"text","color":"#222222"},"encoding":{"text":{"field":"r","type":"quantitative","format":".2r"},"size":{"field":"r","type":"quantitative","scale":{"domain":[-1,0,1],"range":[16,4.5,16]}}}},{"mark":{"type":"text","dx":15,"dy":-12,"fontSize":10,"color":"#555555"},"encoding":{"text":{"field":"stars"}}}]},
{"data":{"name":"cor"},"transform":[{"filter":"datum.a=='NLPP'&&datum.b=='FL'"}],"layer":[{"mark":{"type":"text","color":"#222222"},"encoding":{"text":{"field":"r","type":"quantitative","format":".2r"},"size":{"field":"r","type":"quantitative","scale":{"domain":[-1,0,1],"range":[16,4.5,16]}}}},{"mark":{"type":"text","dx":15,"dy":-12,"fontSize":10,"color":"#555555"},"encoding":{"text":{"field":"stars"}}}]},
{"data":{"name":"cor"},"transform":[{"filter":"datum.a=='NLPP'&&datum.b=='TSW'"}],"layer":[{"mark":{"type":"text","color":"#222222"},"encoding":{"text":{"field":"r","type":"quantitative","format":".2r"},"size":{"field":"r","type":"quantitative","scale":{"domain":[-1,0,1],"range":[16,4.5,16]}}}},{"mark":{"type":"text","dx":15,"dy":-12,"fontSize":10,"color":"#555555"},"encoding":{"text":{"field":"stars"}}}]},
{"data":{"name":"cor"},"transform":[{"filter":"datum.a=='NLPP'&&datum.b=='GYPP'"}],"layer":[{"mark":{"type":"text","color":"#222222"},"encoding":{"text":{"field":"r","type":"quantitative","format":".2r"},"size":{"field":"r","type":"quantitative","scale":{"domain":[-1,0,1],"range":[16,4.5,16]}}}},{"mark":{"type":"text","dx":15,"dy":-12,"fontSize":10,"color":"#555555"},"encoding":{"text":{"field":"stars"}}}]},
{"layer":[{"data":{"name":"cor"},"transform":[{"filter":"datum.a=='DFF'&&datum.b=='NPTPP'&&datum.stars!=''"}],"mark":{"type":"rect","color":"#d4f7d0"},"encoding":{}},{"data":{"name":"obs"},"mark":{"type":"circle","size":13,"color":"#000000","opacity":1},"encoding":{"x":{"field":"DFF","type":"quantitative","scale":{"zero":false,"nice":false,"padding":3}},"y":{"field":"NPTPP","type":"quantitative","scale":{"zero":false,"nice":false,"padding":2.5}}}}]},
{"layer":[{"data":{"name":"cor"},"transform":[{"filter":"datum.a=='DM'&&datum.b=='NPTPP'&&datum.stars!=''"}],"mark":{"type":"rect","color":"#d4f7d0"},"encoding":{}},{"data":{"name":"obs"},"mark":{"type":"circle","size":13,"color":"#000000","opacity":1},"encoding":{"x":{"field":"DM","type":"quantitative","scale":{"zero":false,"nice":false,"padding":3}},"y":{"field":"NPTPP","type":"quantitative","scale":{"zero":false,"nice":false,"padding":2.5}}}}]},
{"layer":[{"data":{"name":"cor"},"transform":[{"filter":"datum.a=='PH'&&datum.b=='NPTPP'&&datum.stars!=''"}],"mark":{"type":"rect","color":"#d4f7d0"},"encoding":{}},{"data":{"name":"obs"},"mark":{"type":"circle","size":13,"color":"#000000","opacity":1},"encoding":{"x":{"field":"PH","type":"quantitative","scale":{"zero":false,"nice":false,"padding":3}},"y":{"field":"NPTPP","type":"quantitative","scale":{"zero":false,"nice":false,"padding":2.5}}}}]},
{"layer":[{"data":{"name":"cor"},"transform":[{"filter":"datum.a=='NLPP'&&datum.b=='NPTPP'&&datum.stars!=''"}],"mark":{"type":"rect","color":"#d4f7d0"},"encoding":{}},{"data":{"name":"obs"},"mark":{"type":"circle","size":13,"color":"#000000","opacity":1},"encoding":{"x":{"field":"NLPP","type":"quantitative","scale":{"zero":false,"nice":false,"padding":3}},"y":{"field":"NPTPP","type":"quantitative","scale":{"zero":false,"nice":false,"padding":2.5}}}}]},
{"data":{"name":"hist"},"transform":[{"filter":"datum.v=='NPTPP'"}],"mark":{"type":"bar","fill":"#aaaaaa","stroke":"#000000","strokeWidth":0.6},"encoding":{"x":{"field":"b","type":"ordinal","scale":{"paddingInner":0,"paddingOuter":1}},"y":{"field":"n","type":"quantitative","scale":{"nice":false,"padding":2}}}},
{"data":{"name":"cor"},"transform":[{"filter":"datum.a=='NPTPP'&&datum.b=='NFPE'"}],"layer":[{"mark":{"type":"text","color":"#222222"},"encoding":{"text":{"field":"r","type":"quantitative","format":".2r"},"size":{"field":"r","type":"quantitative","scale":{"domain":[-1,0,1],"range":[16,4.5,16]}}}},{"mark":{"type":"text","dx":15,"dy":-12,"fontSize":10,"color":"#555555"},"encoding":{"text":{"field":"stars"}}}]},
{"data":{"name":"cor"},"transform":[{"filter":"datum.a=='NPTPP'&&datum.b=='FL'"}],"layer":[{"mark":{"type":"text","color":"#222222"},"encoding":{"text":{"field":"r","type":"quantitative","format":".2r"},"size":{"field":"r","type":"quantitative","scale":{"domain":[-1,0,1],"range":[16,4.5,16]}}}},{"mark":{"type":"text","dx":15,"dy":-12,"fontSize":10,"color":"#555555"},"encoding":{"text":{"field":"stars"}}}]},
{"data":{"name":"cor"},"transform":[{"filter":"datum.a=='NPTPP'&&datum.b=='TSW'"}],"layer":[{"mark":{"type":"text","color":"#222222"},"encoding":{"text":{"field":"r","type":"quantitative","format":".2r"},"size":{"field":"r","type":"quantitative","scale":{"domain":[-1,0,1],"range":[16,4.5,16]}}}},{"mark":{"type":"text","dx":15,"dy":-12,"fontSize":10,"color":"#555555"},"encoding":{"text":{"field":"stars"}}}]},
{"data":{"name":"cor"},"transform":[{"filter":"datum.a=='NPTPP'&&datum.b=='GYPP'"}],"layer":[{"mark":{"type":"text","color":"#222222"},"encoding":{"text":{"field":"r","type":"quantitative","format":".2r"},"size":{"field":"r","type":"quantitative","scale":{"domain":[-1,0,1],"range":[16,4.5,16]}}}},{"mark":{"type":"text","dx":15,"dy":-12,"fontSize":10,"color":"#555555"},"encoding":{"text":{"field":"stars"}}}]},
{"layer":[{"data":{"name":"cor"},"transform":[{"filter":"datum.a=='DFF'&&datum.b=='NFPE'&&datum.stars!=''"}],"mark":{"type":"rect","color":"#d4f7d0"},"encoding":{}},{"data":{"name":"obs"},"mark":{"type":"circle","size":13,"color":"#000000","opacity":1},"encoding":{"x":{"field":"DFF","type":"quantitative","scale":{"zero":false,"nice":false,"padding":3}},"y":{"field":"NFPE","type":"quantitative","scale":{"zero":false,"nice":false,"padding":2.5}}}}]},
{"layer":[{"data":{"name":"cor"},"transform":[{"filter":"datum.a=='DM'&&datum.b=='NFPE'&&datum.stars!=''"}],"mark":{"type":"rect","color":"#d4f7d0"},"encoding":{}},{"data":{"name":"obs"},"mark":{"type":"circle","size":13,"color":"#000000","opacity":1},"encoding":{"x":{"field":"DM","type":"quantitative","scale":{"zero":false,"nice":false,"padding":3}},"y":{"field":"NFPE","type":"quantitative","scale":{"zero":false,"nice":false,"padding":2.5}}}}]},
{"layer":[{"data":{"name":"cor"},"transform":[{"filter":"datum.a=='PH'&&datum.b=='NFPE'&&datum.stars!=''"}],"mark":{"type":"rect","color":"#d4f7d0"},"encoding":{}},{"data":{"name":"obs"},"mark":{"type":"circle","size":13,"color":"#000000","opacity":1},"encoding":{"x":{"field":"PH","type":"quantitative","scale":{"zero":false,"nice":false,"padding":3}},"y":{"field":"NFPE","type":"quantitative","scale":{"zero":false,"nice":false,"padding":2.5}}}}]},
{"layer":[{"data":{"name":"cor"},"transform":[{"filter":"datum.a=='NLPP'&&datum.b=='NFPE'&&datum.stars!=''"}],"mark":{"type":"rect","color":"#d4f7d0"},"encoding":{}},{"data":{"name":"obs"},"mark":{"type":"circle","size":13,"color":"#000000","opacity":1},"encoding":{"x":{"field":"NLPP","type":"quantitative","scale":{"zero":false,"nice":false,"padding":3}},"y":{"field":"NFPE","type":"quantitative","scale":{"zero":false,"nice":false,"padding":2.5}}}}]},
{"layer":[{"data":{"name":"cor"},"transform":[{"filter":"datum.a=='NPTPP'&&datum.b=='NFPE'&&datum.stars!=''"}],"mark":{"type":"rect","color":"#d4f7d0"},"encoding":{}},{"data":{"name":"obs"},"mark":{"type":"circle","size":13,"color":"#000000","opacity":1},"encoding":{"x":{"field":"NPTPP","type":"quantitative","scale":{"zero":false,"nice":false,"padding":3}},"y":{"field":"NFPE","type":"quantitative","scale":{"zero":false,"nice":false,"padding":2.5}}}}]},
{"data":{"name":"hist"},"transform":[{"filter":"datum.v=='NFPE'"}],"mark":{"type":"bar","fill":"#aaaaaa","stroke":"#000000","strokeWidth":0.6},"encoding":{"x":{"field":"b","type":"ordinal","scale":{"paddingInner":0,"paddingOuter":1}},"y":{"field":"n","type":"quantitative","scale":{"nice":false,"padding":2}}}},
{"data":{"name":"cor"},"transform":[{"filter":"datum.a=='NFPE'&&datum.b=='FL'"}],"layer":[{"mark":{"type":"text","color":"#222222"},"encoding":{"text":{"field":"r","type":"quantitative","format":".2r"},"size":{"field":"r","type":"quantitative","scale":{"domain":[-1,0,1],"range":[16,4.5,16]}}}},{"mark":{"type":"text","dx":15,"dy":-12,"fontSize":10,"color":"#555555"},"encoding":{"text":{"field":"stars"}}}]},
{"data":{"name":"cor"},"transform":[{"filter":"datum.a=='NFPE'&&datum.b=='TSW'"}],"layer":[{"mark":{"type":"text","color":"#222222"},"encoding":{"text":{"field":"r","type":"quantitative","format":".2r"},"size":{"field":"r","type":"quantitative","scale":{"domain":[-1,0,1],"range":[16,4.5,16]}}}},{"mark":{"type":"text","dx":15,"dy":-12,"fontSize":10,"color":"#555555"},"encoding":{"text":{"field":"stars"}}}]},
{"data":{"name":"cor"},"transform":[{"filter":"datum.a=='NFPE'&&datum.b=='GYPP'"}],"layer":[{"mark":{"type":"text","color":"#222222"},"encoding":{"text":{"field":"r","type":"quantitative","format":".2r"},"size":{"field":"r","type":"quantitative","scale":{"domain":[-1,0,1],"range":[16,4.5,16]}}}},{"mark":{"type":"text","dx":15,"dy":-12,"fontSize":10,"color":"#555555"},"encoding":{"text":{"field":"stars"}}}]},
{"layer":[{"data":{"name":"cor"},"transform":[{"filter":"datum.a=='DFF'&&datum.b=='FL'&&datum.stars!=''"}],"mark":{"type":"rect","color":"#d4f7d0"},"encoding":{}},{"data":{"name":"obs"},"mark":{"type":"circle","size":13,"color":"#000000","opacity":1},"encoding":{"x":{"field":"DFF","type":"quantitative","scale":{"zero":false,"nice":false,"padding":3}},"y":{"field":"FL","type":"quantitative","scale":{"zero":false,"nice":false,"padding":2.5}}}}]},
{"layer":[{"data":{"name":"cor"},"transform":[{"filter":"datum.a=='DM'&&datum.b=='FL'&&datum.stars!=''"}],"mark":{"type":"rect","color":"#d4f7d0"},"encoding":{}},{"data":{"name":"obs"},"mark":{"type":"circle","size":13,"color":"#000000","opacity":1},"encoding":{"x":{"field":"DM","type":"quantitative","scale":{"zero":false,"nice":false,"padding":3}},"y":{"field":"FL","type":"quantitative","scale":{"zero":false,"nice":false,"padding":2.5}}}}]},
{"layer":[{"data":{"name":"cor"},"transform":[{"filter":"datum.a=='PH'&&datum.b=='FL'&&datum.stars!=''"}],"mark":{"type":"rect","color":"#d4f7d0"},"encoding":{}},{"data":{"name":"obs"},"mark":{"type":"circle","size":13,"color":"#000000","opacity":1},"encoding":{"x":{"field":"PH","type":"quantitative","scale":{"zero":false,"nice":false,"padding":3}},"y":{"field":"FL","type":"quantitative","scale":{"zero":false,"nice":false,"padding":2.5}}}}]},
{"layer":[{"data":{"name":"cor"},"transform":[{"filter":"datum.a=='NLPP'&&datum.b=='FL'&&datum.stars!=''"}],"mark":{"type":"rect","color":"#d4f7d0"},"encoding":{}},{"data":{"name":"obs"},"mark":{"type":"circle","size":13,"color":"#000000","opacity":1},"encoding":{"x":{"field":"NLPP","type":"quantitative","scale":{"zero":false,"nice":false,"padding":3}},"y":{"field":"FL","type":"quantitative","scale":{"zero":false,"nice":false,"padding":2.5}}}}]},
{"layer":[{"data":{"name":"cor"},"transform":[{"filter":"datum.a=='NPTPP'&&datum.b=='FL'&&datum.stars!=''"}],"mark":{"type":"rect","color":"#d4f7d0"},"encoding":{}},{"data":{"name":"obs"},"mark":{"type":"circle","size":13,"color":"#000000","opacity":1},"encoding":{"x":{"field":"NPTPP","type":"quantitative","scale":{"zero":false,"nice":false,"padding":3}},"y":{"field":"FL","type":"quantitative","scale":{"zero":false,"nice":false,"padding":2.5}}}}]},
{"layer":[{"data":{"name":"cor"},"transform":[{"filter":"datum.a=='NFPE'&&datum.b=='FL'&&datum.stars!=''"}],"mark":{"type":"rect","color":"#d4f7d0"},"encoding":{}},{"data":{"name":"obs"},"mark":{"type":"circle","size":13,"color":"#000000","opacity":1},"encoding":{"x":{"field":"NFPE","type":"quantitative","scale":{"zero":false,"nice":false,"padding":3}},"y":{"field":"FL","type":"quantitative","scale":{"zero":false,"nice":false,"padding":2.5}}}}]},
{"data":{"name":"hist"},"transform":[{"filter":"datum.v=='FL'"}],"mark":{"type":"bar","fill":"#aaaaaa","stroke":"#000000","strokeWidth":0.6},"encoding":{"x":{"field":"b","type":"ordinal","scale":{"paddingInner":0,"paddingOuter":1}},"y":{"field":"n","type":"quantitative","scale":{"nice":false,"padding":2}}}},
{"data":{"name":"cor"},"transform":[{"filter":"datum.a=='FL'&&datum.b=='TSW'"}],"layer":[{"mark":{"type":"text","color":"#222222"},"encoding":{"text":{"field":"r","type":"quantitative","format":".2r"},"size":{"field":"r","type":"quantitative","scale":{"domain":[-1,0,1],"range":[16,4.5,16]}}}},{"mark":{"type":"text","dx":15,"dy":-12,"fontSize":10,"color":"#555555"},"encoding":{"text":{"field":"stars"}}}]},
{"data":{"name":"cor"},"transform":[{"filter":"datum.a=='FL'&&datum.b=='GYPP'"}],"layer":[{"mark":{"type":"text","color":"#222222"},"encoding":{"text":{"field":"r","type":"quantitative","format":".2r"},"size":{"field":"r","type":"quantitative","scale":{"domain":[-1,0,1],"range":[16,4.5,16]}}}},{"mark":{"type":"text","dx":15,"dy":-12,"fontSize":10,"color":"#555555"},"encoding":{"text":{"field":"stars"}}}]},
{"layer":[{"data":{"name":"cor"},"transform":[{"filter":"datum.a=='DFF'&&datum.b=='TSW'&&datum.stars!=''"}],"mark":{"type":"rect","color":"#d4f7d0"},"encoding":{}},{"data":{"name":"obs"},"mark":{"type":"circle","size":13,"color":"#000000","opacity":1},"encoding":{"x":{"field":"DFF","type":"quantitative","scale":{"zero":false,"nice":false,"padding":3}},"y":{"field":"TSW","type":"quantitative","scale":{"zero":false,"nice":false,"padding":2.5}}}}]},
{"layer":[{"data":{"name":"cor"},"transform":[{"filter":"datum.a=='DM'&&datum.b=='TSW'&&datum.stars!=''"}],"mark":{"type":"rect","color":"#d4f7d0"},"encoding":{}},{"data":{"name":"obs"},"mark":{"type":"circle","size":13,"color":"#000000","opacity":1},"encoding":{"x":{"field":"DM","type":"quantitative","scale":{"zero":false,"nice":false,"padding":3}},"y":{"field":"TSW","type":"quantitative","scale":{"zero":false,"nice":false,"padding":2.5}}}}]},
{"layer":[{"data":{"name":"cor"},"transform":[{"filter":"datum.a=='PH'&&datum.b=='TSW'&&datum.stars!=''"}],"mark":{"type":"rect","color":"#d4f7d0"},"encoding":{}},{"data":{"name":"obs"},"mark":{"type":"circle","size":13,"color":"#000000","opacity":1},"encoding":{"x":{"field":"PH","type":"quantitative","scale":{"zero":false,"nice":false,"padding":3}},"y":{"field":"TSW","type":"quantitative","scale":{"zero":false,"nice":false,"padding":2.5}}}}]},
{"layer":[{"data":{"name":"cor"},"transform":[{"filter":"datum.a=='NLPP'&&datum.b=='TSW'&&datum.stars!=''"}],"mark":{"type":"rect","color":"#d4f7d0"},"encoding":{}},{"data":{"name":"obs"},"mark":{"type":"circle","size":13,"color":"#000000","opacity":1},"encoding":{"x":{"field":"NLPP","type":"quantitative","scale":{"zero":false,"nice":false,"padding":3}},"y":{"field":"TSW","type":"quantitative","scale":{"zero":false,"nice":false,"padding":2.5}}}}]},
{"layer":[{"data":{"name":"cor"},"transform":[{"filter":"datum.a=='NPTPP'&&datum.b=='TSW'&&datum.stars!=''"}],"mark":{"type":"rect","color":"#d4f7d0"},"encoding":{}},{"data":{"name":"obs"},"mark":{"type":"circle","size":13,"color":"#000000","opacity":1},"encoding":{"x":{"field":"NPTPP","type":"quantitative","scale":{"zero":false,"nice":false,"padding":3}},"y":{"field":"TSW","type":"quantitative","scale":{"zero":false,"nice":false,"padding":2.5}}}}]},
{"layer":[{"data":{"name":"cor"},"transform":[{"filter":"datum.a=='NFPE'&&datum.b=='TSW'&&datum.stars!=''"}],"mark":{"type":"rect","color":"#d4f7d0"},"encoding":{}},{"data":{"name":"obs"},"mark":{"type":"circle","size":13,"color":"#000000","opacity":1},"encoding":{"x":{"field":"NFPE","type":"quantitative","scale":{"zero":false,"nice":false,"padding":3}},"y":{"field":"TSW","type":"quantitative","scale":{"zero":false,"nice":false,"padding":2.5}}}}]},
{"layer":[{"data":{"name":"cor"},"transform":[{"filter":"datum.a=='FL'&&datum.b=='TSW'&&datum.stars!=''"}],"mark":{"type":"rect","color":"#d4f7d0"},"encoding":{}},{"data":{"name":"obs"},"mark":{"type":"circle","size":13,"color":"#000000","opacity":1},"encoding":{"x":{"field":"FL","type":"quantitative","scale":{"zero":false,"nice":false,"padding":3}},"y":{"field":"TSW","type":"quantitative","scale":{"zero":false,"nice":false,"padding":2.5}}}}]},
{"data":{"name":"hist"},"transform":[{"filter":"datum.v=='TSW'"}],"mark":{"type":"bar","fill":"#aaaaaa","stroke":"#000000","strokeWidth":0.6},"encoding":{"x":{"field":"b","type":"ordinal","scale":{"paddingInner":0,"paddingOuter":1}},"y":{"field":"n","type":"quantitative","scale":{"nice":false,"padding":2}}}},
{"data":{"name":"cor"},"transform":[{"filter":"datum.a=='TSW'&&datum.b=='GYPP'"}],"layer":[{"mark":{"type":"text","color":"#222222"},"encoding":{"text":{"field":"r","type":"quantitative","format":".2r"},"size":{"field":"r","type":"quantitative","scale":{"domain":[-1,0,1],"range":[16,4.5,16]}}}},{"mark":{"type":"text","dx":15,"dy":-12,"fontSize":10,"color":"#555555"},"encoding":{"text":{"field":"stars"}}}]},
{"layer":[{"data":{"name":"cor"},"transform":[{"filter":"datum.a=='DFF'&&datum.b=='GYPP'&&datum.stars!=''"}],"mark":{"type":"rect","color":"#d4f7d0"},"encoding":{}},{"data":{"name":"obs"},"mark":{"type":"circle","size":13,"color":"#000000","opacity":1},"encoding":{"x":{"field":"DFF","type":"quantitative","scale":{"zero":false,"nice":false,"padding":3}},"y":{"field":"GYPP","type":"quantitative","scale":{"zero":false,"nice":false,"padding":2.5}}}}]},
{"layer":[{"data":{"name":"cor"},"transform":[{"filter":"datum.a=='DM'&&datum.b=='GYPP'&&datum.stars!=''"}],"mark":{"type":"rect","color":"#d4f7d0"},"encoding":{}},{"data":{"name":"obs"},"mark":{"type":"circle","size":13,"color":"#000000","opacity":1},"encoding":{"x":{"field":"DM","type":"quantitative","scale":{"zero":false,"nice":false,"padding":3}},"y":{"field":"GYPP","type":"quantitative","scale":{"zero":false,"nice":false,"padding":2.5}}}}]},
{"layer":[{"data":{"name":"cor"},"transform":[{"filter":"datum.a=='PH'&&datum.b=='GYPP'&&datum.stars!=''"}],"mark":{"type":"rect","color":"#d4f7d0"},"encoding":{}},{"data":{"name":"obs"},"mark":{"type":"circle","size":13,"color":"#000000","opacity":1},"encoding":{"x":{"field":"PH","type":"quantitative","scale":{"zero":false,"nice":false,"padding":3}},"y":{"field":"GYPP","type":"quantitative","scale":{"zero":false,"nice":false,"padding":2.5}}}}]},
{"layer":[{"data":{"name":"cor"},"transform":[{"filter":"datum.a=='NLPP'&&datum.b=='GYPP'&&datum.stars!=''"}],"mark":{"type":"rect","color":"#d4f7d0"},"encoding":{}},{"data":{"name":"obs"},"mark":{"type":"circle","size":13,"color":"#000000","opacity":1},"encoding":{"x":{"field":"NLPP","type":"quantitative","scale":{"zero":false,"nice":false,"padding":3}},"y":{"field":"GYPP","type":"quantitative","scale":{"zero":false,"nice":false,"padding":2.5}}}}]},
{"layer":[{"data":{"name":"cor"},"transform":[{"filter":"datum.a=='NPTPP'&&datum.b=='GYPP'&&datum.stars!=''"}],"mark":{"type":"rect","color":"#d4f7d0"},"encoding":{}},{"data":{"name":"obs"},"mark":{"type":"circle","size":13,"color":"#000000","opacity":1},"encoding":{"x":{"field":"NPTPP","type":"quantitative","scale":{"zero":false,"nice":false,"padding":3}},"y":{"field":"GYPP","type":"quantitative","scale":{"zero":false,"nice":false,"padding":2.5}}}}]},
{"layer":[{"data":{"name":"cor"},"transform":[{"filter":"datum.a=='NFPE'&&datum.b=='GYPP'&&datum.stars!=''"}],"mark":{"type":"rect","color":"#d4f7d0"},"encoding":{}},{"data":{"name":"obs"},"mark":{"type":"circle","size":13,"color":"#000000","opacity":1},"encoding":{"x":{"field":"NFPE","type":"quantitative","scale":{"zero":false,"nice":false,"padding":3}},"y":{"field":"GYPP","type":"quantitative","scale":{"zero":false,"nice":false,"padding":2.5}}}}]},
{"layer":[{"data":{"name":"cor"},"transform":[{"filter":"datum.a=='FL'&&datum.b=='GYPP'&&datum.stars!=''"}],"mark":{"type":"rect","color":"#d4f7d0"},"encoding":{}},{"data":{"name":"obs"},"mark":{"type":"circle","size":13,"color":"#000000","opacity":1},"encoding":{"x":{"field":"FL","type":"quantitative","scale":{"zero":false,"nice":false,"padding":3}},"y":{"field":"GYPP","type":"quantitative","scale":{"zero":false,"nice":false,"padding":2.5}}}}]},
{"layer":[{"data":{"name":"cor"},"transform":[{"filter":"datum.a=='TSW'&&datum.b=='GYPP'&&datum.stars!=''"}],"mark":{"type":"rect","color":"#d4f7d0"},"encoding":{}},{"data":{"name":"obs"},"mark":{"type":"circle","size":13,"color":"#000000","opacity":1},"encoding":{"x":{"field":"TSW","type":"quantitative","scale":{"zero":false,"nice":false,"padding":3}},"y":{"field":"GYPP","type":"quantitative","scale":{"zero":false,"nice":false,"padding":2.5}}}}]},
{"data":{"name":"hist"},"transform":[{"filter":"datum.v=='GYPP'"}],"mark":{"type":"bar","fill":"#aaaaaa","stroke":"#000000","strokeWidth":0.6},"encoding":{"x":{"field":"b","type":"ordinal","scale":{"paddingInner":0,"paddingOuter":1}},"y":{"field":"n","type":"quantitative","scale":{"nice":false,"padding":2}}}}
]},
{"width":21,"height":401,"view":{"stroke":null},"data":{"name":"vars"},"encoding":{"y":{"field":"v","type":"nominal","sort":null,"scale":{"paddingInner":0.0391,"paddingOuter":0},"axis":null}},"layer":[{"mark":{"type":"rect","color":"#d9d9d9"}},{"mark":{"type":"text","fontSize":12.5,"color":"#1a1a1a","angle":90},"encoding":{"text":{"field":"v"}}}]}
]}
]}
]}
]
}
